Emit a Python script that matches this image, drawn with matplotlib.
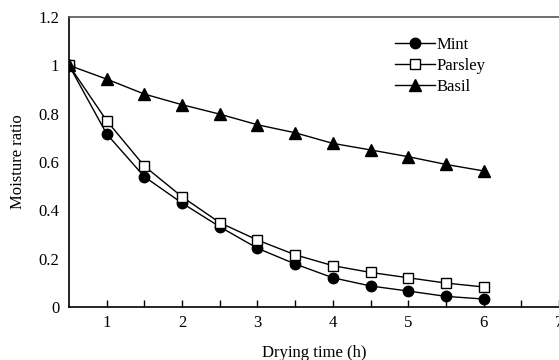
import matplotlib.pyplot as plt

# Drying curves
time_h = [0.5, 1, 1.5, 2, 2.5, 3, 3.5, 4, 4.5, 5, 5.5, 6]
mint = [1.0, 0.716, 0.539, 0.430, 0.332, 0.243, 0.178, 0.121, 0.087, 0.066, 0.044, 0.033]
parsley = [1.0, 0.771, 0.583, 0.456, 0.349, 0.277, 0.216, 0.171, 0.143, 0.121, 0.099, 0.083]
basil = [1.0, 0.943, 0.881, 0.837, 0.798, 0.754, 0.721, 0.677, 0.650, 0.622, 0.590, 0.563]

xticks = [1, 2, 3, 4, 5, 6, 7]
yticks = [0, 0.2, 0.4, 0.6, 0.8, 1.0, 1.2]
ytick_labels = ['0', '0.2', '0.4', '0.6', '0.8', '1', '1.2']

plt.rcParams['font.family'] = ['Liberation Serif', 'DejaVu Serif']
plt.rcParams['font.size'] = 12

fig = plt.figure(figsize=(5.59, 3.6), dpi=100)
ax = fig.add_axes([69 / 559, 1 - 307 / 360, 1 - 69 / 559, (307 - 17) / 360])

ax.plot(time_h, mint, color='black', lw=1.0, marker='o', ms=7.5,
        mfc='black', mec='black', label='Mint')
ax.plot(time_h, parsley, color='black', lw=1.0, marker='s', ms=7.5,
        mfc='white', mec='black', mew=1.0, label='Parsley')
ax.plot(time_h, basil, color='black', lw=1.0, marker='^', ms=8.5,
        mfc='black', mec='black', label='Basil')

ax.set_xlim(0.5, 7.0)
ax.set_ylim(0, 1.2)
ax.set_xticks(xticks)
ax.set_xticks([1.5, 2.5, 3.5, 4.5, 5.5, 6.5], minor=True)
ax.tick_params(axis='x', which='both', direction='in', length=5, width=1, pad=6)
ax.set_yticks(yticks)
ax.set_yticklabels(ytick_labels)
ax.tick_params(axis='y', length=0, pad=7)

for side in ['left', 'bottom']:
    ax.spines[side].set_linewidth(1.2)
ax.spines['top'].set_color('#555555')
ax.spines['top'].set_linewidth(1.2)
ax.spines['right'].set_visible(False)

ax.set_xlabel('Drying time (h)', labelpad=10)
ax.set_ylabel('Moisture ratio', labelpad=9)

ax.legend(loc='upper left', bbox_to_anchor=(0.652, 0.955), frameon=False,
          handlelength=2.4, handletextpad=0.1, labelspacing=0.3,
          borderaxespad=0)

fig.savefig('out.png', dpi=100)
